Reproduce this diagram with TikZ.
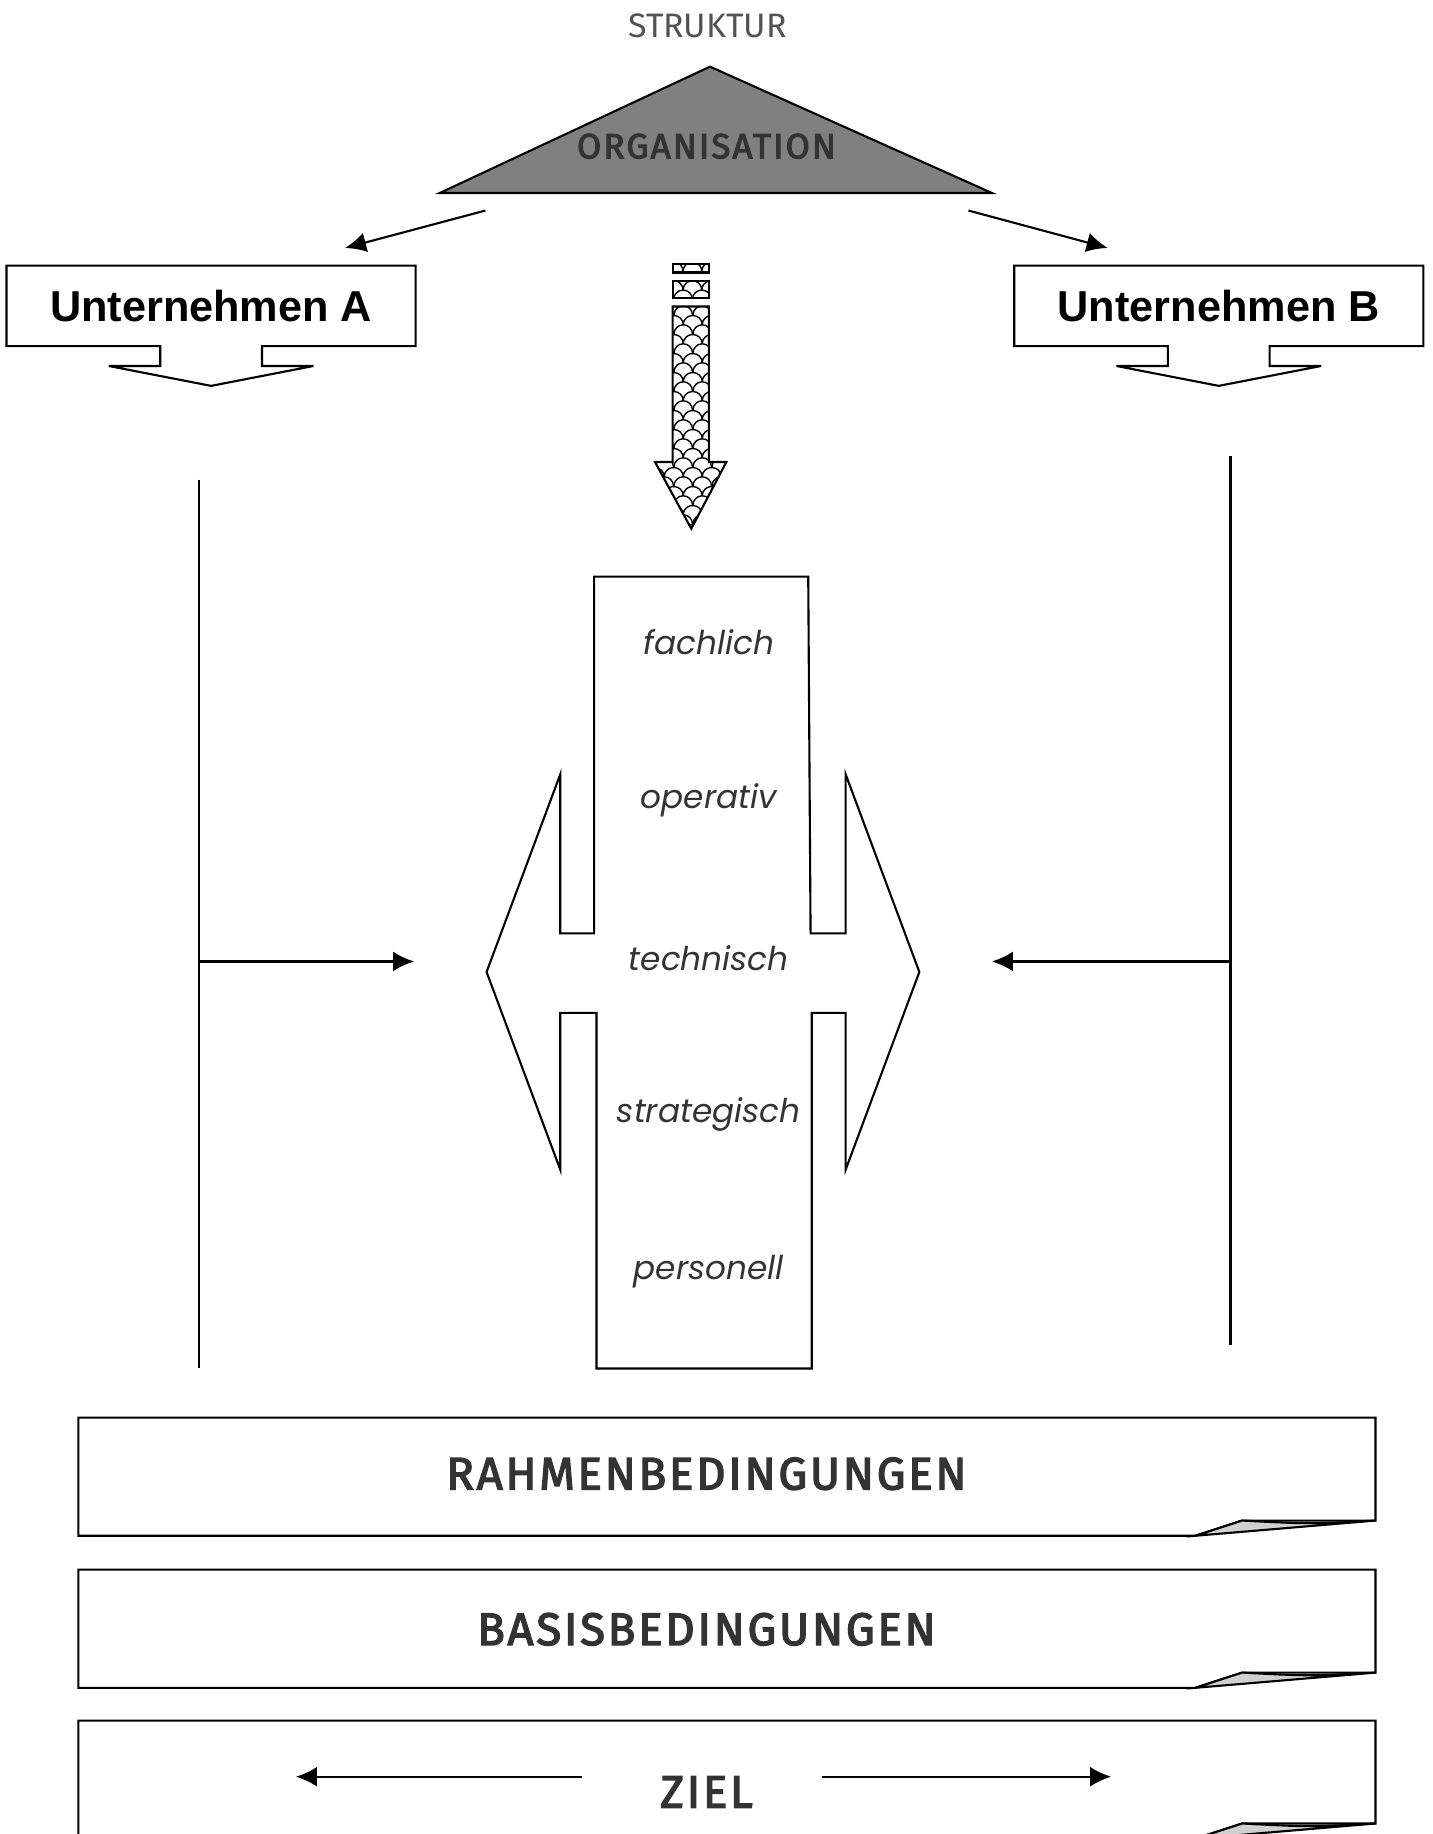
\documentclass[tikz,border=0pt]{standalone}
\usepackage{fontspec}
\setmainfont{Poppins}
\newfontfamily\boxfont{Liberation Sans}
\newfontfamily\capsfont[LetterSpace=6,FakeBold=3]{Fira Sans}
\newfontfamily\thinfont{Fira Sans}
\usetikzlibrary{arrows.meta,%
                patterns,%
                calc}

\definecolor{textgray}{HTML}{333333}
\definecolor{trigray}{HTML}{808080}
\definecolor{curlgray}{HTML}{D0D0D0}

% fish scale filling of the middle arrow
\pgfdeclarepatternformonly{shingles}{\pgfpointorigin}{\pgfpoint{8pt}{8pt}}{\pgfpoint{8pt}{8pt}}{%
  \pgfsetlinewidth{0.6pt}
  \pgfpathmoveto{\pgfpoint{0pt}{0pt}}
  \pgfpatharc{180}{0}{4pt}
  \pgfpathmoveto{\pgfpoint{-4pt}{4pt}}
  \pgfpatharc{180}{0}{4pt}
  \pgfpathmoveto{\pgfpoint{4pt}{4pt}}
  \pgfpatharc{180}{0}{4pt}
  \pgfusepath{stroke}}

\tikzset{arr/.style={-{Latex[length=9pt,width=8.5pt]}},
         firm/.style={minimum width=174pt,minimum height=33.5pt,inner sep=0pt,
                      font=\boxfont\bfseries\fontsize{18.5}{20}\selectfont},
         aspect/.style={text=textgray,font=\itshape\fontsize{14}{16}\selectfont},
         frame/.style={text=textgray,font=\capsfont\fontsize{19.5}{21}\selectfont}}

\begin{document}
\begin{tikzpicture}[x=0.5pt,y=-0.5pt,line width=0.9pt]
    \useasboundingbox (0,0) rectangle (1225,1568);
    \clip (0,0) rectangle (1225,1568);
    % top
    \node[text=textgray!85,font=\thinfont\fontsize{14.5}{16}\selectfont] (struktur) at (605,22) {STRUKTUR};
    \draw[fill=trigray] (376,165) -- (607,57) -- (848,165) -- cycle;
    \node[text=textgray,font=\capsfont\fontsize{15}{17}\selectfont] (orga) at (604,125) {ORGANISATION};
    \coordinate (fromA) at (415,180);
    \coordinate (toA) at (295,212);
    \coordinate (fromB) at (828,180);
    \coordinate (toB) at (947,212);
    \draw[arr] (fromA) -- (toA);
    \draw[arr] (fromB) -- (toB);
    % firms
    \node[firm] (untA) at (180.5,261.5) {Unternehmen A};
    \node[firm] (untB) at (1042,261.5) {Unternehmen B};
    \foreach \n in {untA,untB}
      \draw ($(\n.south)+(-43.5,0)$) -- (\n.south west) -- (\n.north west) -- (\n.north east)
        -- (\n.south east) -- ($(\n.south)+(43.5,0)$) -- ($(\n.south)+(43.5,17)$)
        -- ($(\n.south)+(87.5,17)$) -- ($(\n.south)+(0,34)$) -- ($(\n.south)+(-87.5,17)$)
        -- ($(\n.south)+(-43.5,17)$) -- cycle;
    % side lines
    \coordinate (topA) at (170,410);
    \coordinate (midA) at (170,822);
    \coordinate (botA) at (170,1170);
    \coordinate (tipA) at (354,822);
    \coordinate (topB) at (1052,390);
    \coordinate (midB) at (1052,822);
    \coordinate (botB) at (1052,1150);
    \coordinate (tipB) at (848,822);
    \draw (topA) -- (botA);
    \draw (topB) -- (botB);
    \draw[arr] (midA) -- (tipA);
    \draw[arr] (midB) -- (tipB);
    % hatched arrow
    \draw[pattern=shingles] (575,226) rectangle (606,233);
    \draw[pattern=shingles] (575,240) rectangle (606,255);
    \draw[pattern=shingles] (575,262) -- (606,262) -- (606,395) -- (621,395) -- (591,452)
        -- (560,395) -- (575,395) -- cycle;
    % cross
    \draw (508,493) -- (691,493) -- (693,798) -- (723,798) -- (723,662) -- (786,831)
        -- (723,1000) -- (723,866) -- (694,866) -- (694,1170) -- (510,1170) -- (510,866)
        -- (479,866) -- (479,1000) -- (416,831) -- (479,662) -- (479,798) -- (508,798) -- cycle;
    \foreach \lbl/\yy in {fachlich/549,operativ/684,technisch/819,strategisch/953,personell/1087}
      \node[aspect] (\lbl) at (606,\yy) {\lbl};
    % bottom frames
    \foreach \name/\yy/\ty/\txt in {rahmen/1212/48/RAHMENBEDINGUNGEN,basis/1342/51/BASISBEDINGUNGEN,ziel/1471/61/ZIEL}
    {
      \draw[fill=white] (67,\yy) -- (1176,\yy) -- (1176,\yy+88) -- (1062,\yy+88)
          -- (1022,\yy+101) -- (67,\yy+101) -- cycle;
      \draw[fill=curlgray] (1022,\yy+101) -- (1062,\yy+88) .. controls (1120,\yy+91) .. (1176,\yy+88) -- cycle;
      \node[frame] (\name) at (604,\yy+\ty) {\txt};
    }
    \coordinate (zielL) at (498,1519);
    \coordinate (zielLtip) at (253,1519);
    \coordinate (zielR) at (703,1519);
    \coordinate (zielRtip) at (950,1519);
    \draw[arr] (zielL) -- (zielLtip);
    \draw[arr] (zielR) -- (zielRtip);
\end{tikzpicture}
\end{document}
